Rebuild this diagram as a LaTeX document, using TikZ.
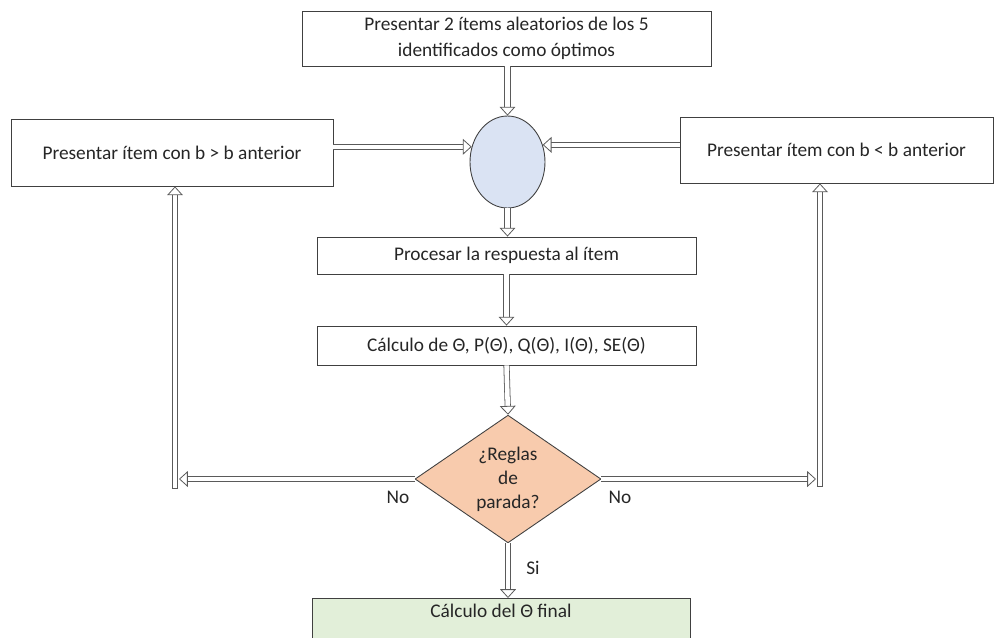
\documentclass[tikz,border=0pt]{standalone}
\usepackage{fontspec}
\setmainfont{Carlito}
\usetikzlibrary{arrows.meta,shapes.geometric}
\definecolor{boxline}{HTML}{404040}
\definecolor{arrowline}{HTML}{5A5A5A}
\definecolor{hubfill}{HTML}{DAE3F3}
\definecolor{decfill}{HTML}{F8CBAD}
\definecolor{endfill}{HTML}{E2EFD9}
\begin{document}
\begin{tikzpicture}[x=0.02cm,y=-0.02cm,
  txt/.style={font=\fontsize{11}{14.8}\selectfont, text=black!85},
  box/.style={txt, draw=boxline, line width=0.5pt, align=center, inner sep=0pt},
  flow/.style={draw=arrowline, double=white, double distance=2.6pt, line width=0.45pt,
    -{Triangle[width=9pt,length=5pt,line width=0.45pt,fill=white]}},
  endcap/.style={draw=arrowline, line width=0.45pt}]
\useasboundingbox (0,0) rectangle (997,637);
\clip (0,0) rectangle (997,637);

% process boxes
\node[box, minimum width=8.18cm, minimum height=1.10cm] (top) at (506.5,38.5)
  {Presentar 2 ítems aleatorios de los 5\\identificados como óptimos};
\node[draw=boxline, line width=0.5pt, fill=hubfill, ellipse, inner sep=0pt,
  minimum width=1.5cm, minimum height=1.84cm] (hub) at (507.5,162) {};
\node[box, minimum width=6.44cm, minimum height=1.34cm] (left) at (172,152.5)
  {Presentar ítem con b > b anterior};
\node[box, minimum width=6.26cm, minimum height=1.32cm] (right) at (836.5,150)
  {Presentar ítem con b < b anterior};
\node[box, minimum width=7.58cm, minimum height=0.74cm] (proc) at (506.5,255.5)
  {Procesar la respuesta al ítem};
\node[box, minimum width=7.58cm, minimum height=0.78cm] (calc) at (506.5,345.5)
  {Cálculo de Θ, P(Θ), Q(Θ), I(Θ), SE(Θ)};
\node[box, diamond, fill=decfill, font=\fontsize{11}{13.6}\selectfont,
  minimum width=3.72cm, minimum height=2.44cm] (dec) at (508,479)
  {¿Reglas\\de\\parada?};
\node[box, fill=endfill, anchor=north, minimum width=7.56cm,
  text height=0.38cm, text depth=1cm] (fin) at (501,598)
  {Cálculo del Θ final};

% return paths
\coordinate (Lend) at (179,479);
\coordinate (Lbot) at (175,488);
\coordinate (Rend) at (816,479);
\coordinate (Rbot) at (820,486);

% connectors
\draw[flow] (top.south -| hub.north) -- (hub.north);
\draw[flow] (left.east |- hub.157) -- (hub.157);
\draw[flow] (right.west |- hub.26) -- (hub.26);
\draw[flow] (hub.south) -- (hub.south |- proc.north);
\draw[flow] (proc.south) -- (calc.north);
\draw[flow] (calc.south) -- (dec.north);
\draw[flow] (dec.west) -- (Lend);
\draw[flow] (Lbot) -- (Lbot |- left.south);
\draw[flow] (dec.east) -- (Rend);
\draw[flow] (Rbot) -- (Rbot |- right.south);
\draw[flow] (dec.south) -- (dec.south |- fin.north);

% closed feet of the vertical return lines
\draw[endcap] ([xshift=-1.75pt]Lbot) -- ([xshift=1.75pt]Lbot);
\draw[endcap] ([xshift=-1.75pt]Rbot) -- ([xshift=1.75pt]Rbot);

% branch labels
\node[txt] (noL) at (398,497) {No};
\node[txt] (noR) at (620,497) {No};
\node[txt] (si) at (533,568) {Si};
\end{tikzpicture}
\end{document}
